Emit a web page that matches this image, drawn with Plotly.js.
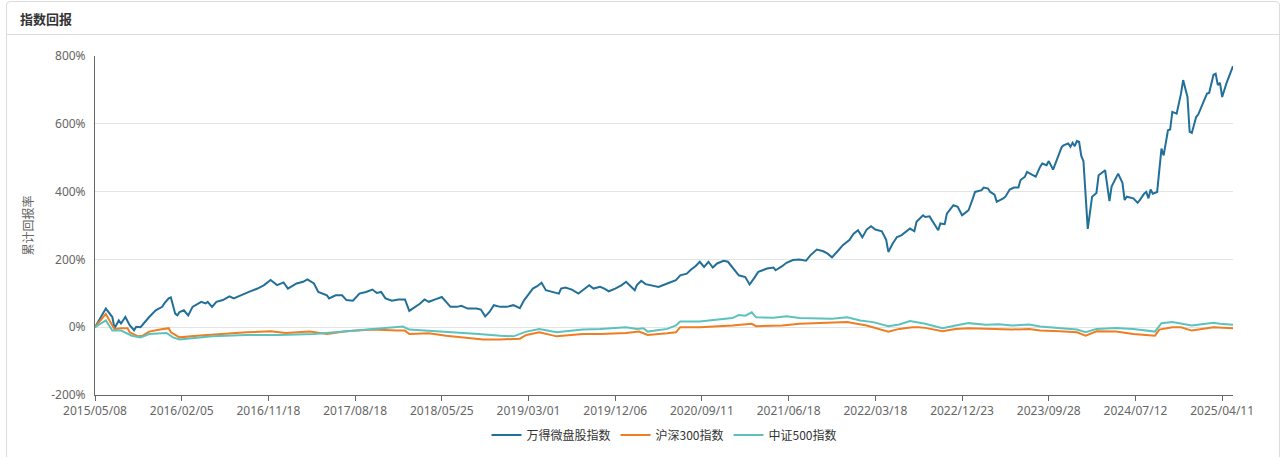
<!DOCTYPE html>
<html>
<head>
<meta charset="utf-8">
<script src="https://cdn.plot.ly/plotly-3.0.1.min.js"></script>
<style>
  html, body { margin:0; padding:0; background:#fff; }
  body { width:1287px; height:457px; position:relative; overflow:hidden; font-family:"Noto Sans","Noto Sans CJK SC",sans-serif; }
  #panel { position:absolute; left:6px; top:1px; width:1274px; height:480px; border:1px solid #dcdcdc; border-radius:4px; box-sizing:border-box; }
  #head { position:absolute; left:0; top:0; right:0; height:32px; border-bottom:1px solid #dcdcdc; }
  #head span { position:absolute; left:13px; top:7px; font-size:13px; font-weight:bold; color:#333; font-family:"Noto Sans CJK SC",sans-serif; }
  #chart { position:absolute; left:0; top:0; width:1287px; height:457px; }
</style>
</head>
<body>
<div id="panel"><div id="head"><span>指数回报</span></div></div>
<div id="chart"></div>
<script>
// Week index of each tick label (weekly trading data)
const tickWeeks  = [0, 40, 80, 120, 160, 200, 240, 280, 320, 360, 400, 440, 480, 520];
const tickLabels = ['2015/05/08','2016/02/05','2016/11/18','2017/08/18','2018/05/25','2019/03/01',
                    '2019/12/06','2020/09/11','2021/06/18','2022/03/18','2022/12/23','2023/09/28',
                    '2024/07/12','2025/04/11'];
const yTicks = [-200, 0, 200, 400, 600, 800];

const seriesNames = ['万得微盘股指数', '沪深300指数', '中证500指数'];

// 万得微盘股指数 cumulative return (%)
const microWeeks = [0,5,8,9,11,12,14,16,18,19,21,23,25,28,31,32,34,35,37,38,39,41,43,45,49,51,52,54,56,59,62,64,67,71,75,78,81,84,87,89,93,96,98,101,103,107,108,111,114,116,119,122,125,128,130,132,134,137,140,143,145,148,150,152,154,157,160,164,167,169,172,176,178,180,182,184,187,190,193,196,198,200,202,204,206,208,211,214,215,217,220,223,225,228,230,233,235,237,240,243,245,247,249,250,252,254,257,260,264,266,268,270,273,275,277,279,281,283,285,287,290,292,295,297,300,302,304,306,308,310,313,314,317,319,322,325,328,330,333,336,338,340,343,345,348,350,352,354,356,358,360,363,365,366,368,370,372,374,376,378,379,382,383,385,387,389,390,392,393,395,396,398,400,401,403,405,406,409,410,412,413,415,416,419,420,422,424,426,427,429,430,432,434,436,437,439,440,442,444,445,446,447,449,450,451,452,453,454,455,456,458,460,462,463,465,466,468,469,472,474,475,476,479,481,482,484,485,486,487,488,490,492,493,495,496,497,499,501,502,504,505,506,508,509,511,512,513,514,516,517,518,519,520,522,525];
const microRet = [0,55,30,-3,20,11,30,6,-9,1,0,16,30,50,60,70,85,88,40,35,45,50,35,60,75,70,75,60,75,80,91,85,94,104,114,124,139,124,132,114,129,134,141,129,104,94,85,94,94,80,78,99,104,111,101,104,85,78,82,82,48,60,70,82,75,82,89,60,60,63,55,55,52,32,45,65,60,60,65,56,80,97,114,121,131,109,104,99,114,117,111,99,109,124,114,119,114,106,114,124,134,121,109,124,137,127,124,119,129,134,139,153,158,170,180,193,178,193,176,188,196,193,170,153,148,126,144,163,168,173,176,168,180,190,198,200,196,212,229,224,217,206,227,242,257,276,286,265,288,298,288,283,258,222,247,266,271,281,291,283,311,330,325,327,306,286,306,304,335,350,360,355,330,335,345,380,399,404,412,409,399,391,370,380,385,406,412,412,434,444,458,451,444,473,483,478,490,465,500,517,532,537,542,532,544,534,549,547,505,490,290,385,396,448,458,463,372,415,453,426,375,385,380,367,375,394,399,380,406,394,399,527,507,581,583,635,630,689,729,679,576,573,620,628,659,673,689,691,745,748,714,721,679,720,770];

// 沪深300指数 cumulative return (%)
const hs300Weeks = [0,5,8,9,12,15,16,20,22,25,30,34,35,39,47,58,70,81,88,99,107,116,128,139,143,145,154,162,170,179,187,196,199,205,213,225,233,245,251,255,264,268,270,279,294,303,305,317,325,340,347,356,366,371,377,380,383,391,397,403,411,423,431,436,445,453,457,462,471,479,489,491,497,501,506,516,525];
const hs300Ret   = [0,39,5,-5,-3,-3,-15,-27,-25,-13,-7,-3,-15,-30,-25,-20,-15,-12,-17,-13,-20,-12,-7,-10,-10,-20,-18,-25,-30,-36,-36,-34,-23,-15,-27,-20,-20,-17,-13,-23,-18,-15,0,0,5,10,3,5,10,12,15,5,-13,-5,0,0,-2,-12,-5,-3,-5,-7,-5,-10,-12,-15,-25,-12,-13,-20,-25,-7,0,0,-10,0,-3];

// 中证500指数 cumulative return (%)
const zz500Weeks = [0,5,8,12,17,21,25,33,36,39,54,70,85,101,116,131,142,145,162,177,187,193,199,205,213,225,233,245,250,253,255,264,268,270,279,287,294,297,300,303,305,313,319,325,340,347,353,359,366,371,376,383,391,397,403,411,417,423,431,436,445,453,457,462,471,479,489,492,497,501,506,516,519,525];
const zz500Ret   = [0,20,-10,-10,-25,-30,-20,-17,-30,-36,-27,-23,-23,-20,-12,-5,2,-7,-13,-20,-25,-27,-13,-5,-15,-7,-5,0,-5,-3,-13,-5,5,17,17,23,27,36,34,44,29,28,32,27,25,29,20,15,3,8,18,10,-3,5,12,7,9,5,8,2,-3,-7,-15,-5,-2,-5,-13,12,15,10,5,13,10,7];

const colors = ['#22709a', '#ef7d22', '#5cc2be'];

const traces = [
  {x: microWeeks, y: microRet, name: seriesNames[0]},
  {x: hs300Weeks, y: hs300Ret, name: seriesNames[1]},
  {x: zz500Weeks, y: zz500Ret, name: seriesNames[2]}
].map((t, i) => Object.assign(t, {
  type: 'scatter', mode: 'lines',
  line: {color: colors[i], width: 2},
  hoverinfo: 'skip'
}));

const layout = {
  width: 1287, height: 457,
  margin: {l: 95, r: 54, t: 56, b: 62, pad: 0, autoexpand: false},
  paper_bgcolor: 'rgba(0,0,0,0)',
  plot_bgcolor: 'rgba(0,0,0,0)',
  font: {family: 'Noto Sans, Noto Sans CJK SC, sans-serif', size: 12, color: '#666'},
  showlegend: true,
  legend: {
    orientation: 'h', xref: 'paper', x: 0.5, xanchor: 'center',
    yref: 'container', y: 0.048, yanchor: 'middle',
    font: {size: 12, color: '#333', family: 'Noto Sans CJK SC, sans-serif'},
    itemwidth: 30, tracegroupgap: 0
  },
  xaxis: {
    type: 'linear', range: [0, 525],
    tickmode: 'array', tickvals: tickWeeks, ticktext: tickLabels,
    ticks: 'outside', ticklen: 5, tickcolor: '#666', tickwidth: 1,
    showline: true, linecolor: '#666', linewidth: 1,
    showgrid: false, zeroline: false,
    tickfont: {size: 12, color: '#666'}
  },
  yaxis: {
    range: [-200, 800],
    tickmode: 'array', tickvals: yTicks, ticktext: yTicks.map(v => v + '%'),
    showline: true, linecolor: '#666', linewidth: 1,
    showgrid: true, gridcolor: '#e4e4e4', gridwidth: 1,
    zeroline: false,
    ticks: '', ticklabelstandoff: 6,
    tickfont: {size: 12, color: '#666'},
    title: {text: '累计回报率', font: {size: 12, color: '#666', family: 'Noto Sans CJK SC, sans-serif'}, standoff: 14}
  }
};
Plotly.newPlot('chart', traces, layout, {displayModeBar: false, staticPlot: true});
</script>
</body>
</html>
